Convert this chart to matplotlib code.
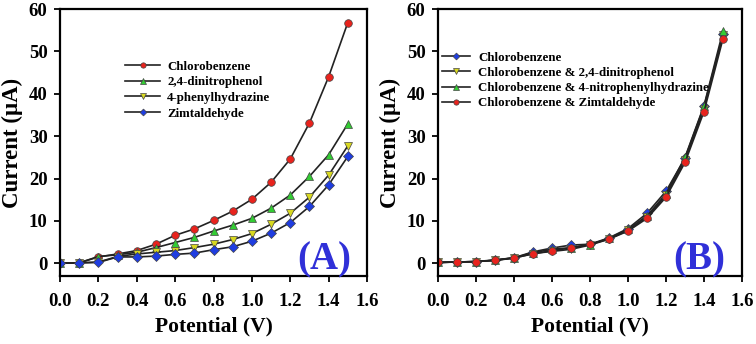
import numpy as np
import matplotlib
matplotlib.use("Agg")
from matplotlib import pyplot as plt

plt.rcParams['font.family'] = ['Liberation Serif', 'DejaVu Serif']
plt.rcParams['font.weight'] = 'bold'

# potential (V)
potential = [0.0, 0.1, 0.2, 0.3, 0.4, 0.5, 0.6, 0.7, 0.8, 0.9, 1.0, 1.1, 1.2, 1.3, 1.4, 1.5]

# panel A - current (uA)
a_labels = ["Chlorobenzene", "2,4-dinitrophenol", "4-phenylhydrazine", "Zimtaldehyde"]
a_chloro = [0.0, 0.1, 1.5, 2.2, 3.0, 4.5, 6.6, 8.1, 10.1, 12.3, 15.1, 19.1, 24.6, 33.1, 44.0, 56.8]
a_dnp = [0.0, 0.1, 1.6, 2.0, 2.6, 3.7, 4.9, 6.1, 7.6, 9.0, 10.6, 13.0, 16.1, 20.5, 25.6, 32.9]
a_phz = [0.0, 0.1, 0.3, 1.6, 2.2, 2.6, 3.0, 3.7, 4.5, 5.6, 7.0, 9.2, 11.8, 15.6, 20.8, 27.7]
a_zimt = [0.0, 0.1, 0.2, 1.5, 1.5, 1.7, 2.1, 2.4, 3.2, 3.9, 5.2, 7.1, 9.6, 13.4, 18.5, 25.2]

# panel B - current (uA)
b_labels = ["Chlorobenzene", "Chlorobenzene & 2,4-dinitrophenol",
            "Chlorobenzene & 4-nitrophenylhydrazine", "Chlorobenzene & Zimtaldehyde"]
b_chloro = [0.2, 0.3, 0.4, 0.8, 1.3, 2.7, 3.6, 4.3, 4.5, 6.0, 8.2, 11.8, 17.0, 24.8, 37.0, 54.0]
b_dnp = [0.2, 0.3, 0.4, 0.7, 1.2, 2.3, 2.8, 3.3, 4.3, 5.7, 7.8, 10.9, 16.0, 24.3, 36.5, 53.8]
b_nph = [0.2, 0.3, 0.4, 0.7, 1.3, 2.5, 3.3, 3.7, 4.4, 5.9, 8.0, 11.2, 16.4, 25.0, 37.2, 54.8]
b_zimt = [0.2, 0.3, 0.4, 0.7, 1.3, 2.2, 3.0, 3.6, 4.5, 5.7, 7.6, 10.6, 15.6, 23.8, 35.8, 53.0]

red = "#e8231d"
green = "#33cc33"
yellow = "#d8d820"
blue = "#1f3de0"

fig = plt.figure(figsize=(7.56, 3.44), dpi=100)
axA = fig.add_axes([60/756, 68/344, 307/756, 267/344])
axB = fig.add_axes([438/756, 68/344, 304/756, 267/344])


def style(ax):
    ax.set_xlim(0, 1.6)
    ax.set_ylim(-3, 60)
    ax.set_xticks(np.arange(0, 1.61, 0.2))
    ax.set_xticklabels(["%.1f" % t for t in np.arange(0, 1.61, 0.2)])
    ax.set_yticks([0, 10, 20, 30, 40, 50, 60])
    for s in ax.spines.values():
        s.set_linewidth(1.6)
    ax.tick_params(direction='out', length=4, width=1.3, labelsize=13.5)
    ax.tick_params(axis='x', pad=8)
    ax.tick_params(axis='y', pad=5)
    for lab in ax.get_xticklabels() + ax.get_yticklabels():
        lab.set_fontweight('bold')
    ax.set_xlabel("Potential (V)", fontsize=15.5, fontweight='bold', labelpad=5)
    ax.set_ylabel("Current (\u03bcA)", fontsize=16.5, fontweight='bold', labelpad=4)


def curve(ax, y, marker, color, label, ms=5.5):
    ax.plot(potential, y, color="#222222", lw=1.2, marker=marker, ms=ms,
            mfc=color, mec="#444444", mew=0.5, label=label)


curve(axA, a_chloro, 'o', red, a_labels[0])
curve(axA, a_dnp, '^', green, a_labels[1], 6)
curve(axA, a_phz, 'v', yellow, a_labels[2], 6)
curve(axA, a_zimt, 'D', blue, a_labels[3], 5)
style(axA)
axA.legend(loc='upper left', bbox_to_anchor=(0.212, 0.807), frameon=False,
           prop={'size': 9.3, 'weight': 'bold'}, handlelength=2.7,
           handletextpad=0.55, labelspacing=0.28, borderpad=0, borderaxespad=0,
           markerscale=0.7)
axA.text(0.86, 0.06, "(A)", transform=axA.transAxes, ha='center', va='center',
         fontsize=28, fontweight='bold', color="#3030d8")

curve(axB, b_chloro, 'D', blue, b_labels[0], 5)
curve(axB, b_dnp, 'v', yellow, b_labels[1], 5.5)
curve(axB, b_nph, '^', green, b_labels[2], 5.5)
curve(axB, b_zimt, 'o', red, b_labels[3], 5.5)
style(axB)
axB.legend(loc='upper left', bbox_to_anchor=(0.013, 0.84), frameon=False,
           prop={'size': 9.3, 'weight': 'bold'}, handlelength=2.2,
           handletextpad=0.6, labelspacing=0.24, borderpad=0, borderaxespad=0,
           markerscale=0.7)
axB.text(0.86, 0.06, "(B)", transform=axB.transAxes, ha='center', va='center',
         fontsize=28, fontweight='bold', color="#3030d8")

fig.savefig("out.png", dpi=100)
